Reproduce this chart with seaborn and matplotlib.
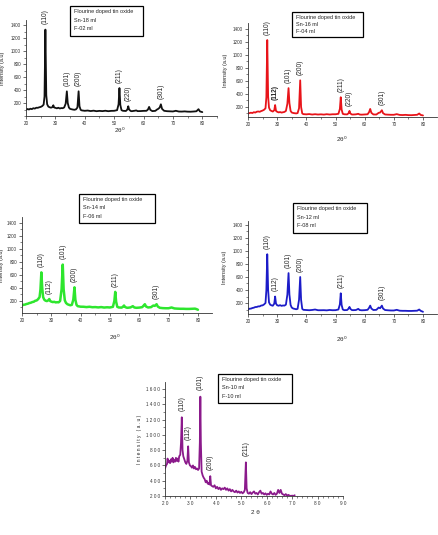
import numpy as np
import pandas as pd
import matplotlib
matplotlib.use("Agg")
import matplotlib.pyplot as plt
from matplotlib.patches import Rectangle
from matplotlib.ticker import MultipleLocator
import seaborn as sns

# ---- data (2theta in degrees, intensity in a.u.) ----
tt1 = [20, 20.5, 21, 21.5, 22, 22.5, 23, 23.5, 24, 24.5, 25, 25.5, 26, 26.3, 26.6, 26.9, 27.2, 27.6,
       28, 28.5, 29, 29.3, 29.6, 30, 30.5, 31, 31.5, 32, 32.5, 33, 33.5, 33.9, 34.2, 34.6, 35, 35.5,
       36, 36.5, 37, 37.5, 37.9, 38.2, 38.6, 39, 40, 41, 42, 43, 44, 45, 46, 47, 48, 49, 50, 51,
       51.5, 51.8, 52.1, 52.5, 53, 54, 54.5, 54.8, 55.1, 55.6, 56, 57, 57.5, 58, 59, 60, 61, 61.5,
       61.9, 62.3, 63, 64, 64.6, 65, 65.5, 65.9, 66.3, 67, 68, 69, 70, 71, 72, 73, 74, 75, 76, 77,
       78, 78.7, 79.2, 80]
int1 = [95, 108, 100, 112, 106, 120, 114, 127, 126, 134, 140, 152, 175, 300, 1330, 320, 180, 145,
        135, 128, 137, 165, 130, 126, 118, 127, 116, 122, 120, 132, 190, 380, 200, 130, 110, 104,
        99, 96, 102, 130, 380, 150, 95, 86, 80, 84, 76, 82, 74, 79, 75, 81, 74, 79, 80, 90,
        180, 430, 170, 90, 80, 77, 100, 150, 100, 78, 74, 81, 86, 75, 76, 79, 80, 100,
        140, 95, 75, 79, 100, 110, 130, 180, 110, 80, 74, 72, 70, 80, 69, 68, 71, 67, 66, 69,
        73, 105, 70, 60]

tt2 = [20, 20.5, 21, 21.5, 22, 22.5, 23, 23.5, 24, 24.5, 25, 25.5, 26, 26.3, 26.6, 26.9, 27.2, 27.6,
       28, 28.5, 29, 29.3, 29.6, 30, 30.5, 31, 31.5, 32, 32.5, 33, 33.5, 33.9, 34.2, 34.6, 35, 35.5,
       36, 36.5, 37, 37.5, 37.9, 38.2, 38.6, 39, 40, 41, 42, 43, 44, 45, 46, 47, 48, 49, 50, 51,
       51.5, 51.8, 52.1, 52.5, 53, 54, 54.5, 54.8, 55.1, 55.6, 56, 57, 57.8, 58.3, 59, 60, 61, 61.5,
       61.9, 62.3, 63, 64, 64.8, 65.3, 65.9, 66.3, 67, 68, 69, 70, 71, 72, 73, 74, 75, 76, 77, 78,
       78.7, 79.2, 80]
int2 = [100, 106, 112, 107, 120, 114, 127, 131, 126, 137, 145, 157, 180, 350, 1230, 360, 190, 150,
        140, 130, 150, 230, 140, 126, 117, 122, 114, 119, 124, 140, 250, 490, 260, 140, 115, 108,
        104, 101, 106, 180, 610, 200, 100, 90, 87, 91, 84, 89, 84, 87, 83, 89, 84, 88, 88, 95,
        170, 350, 160, 95, 88, 86, 105, 140, 100, 85, 84, 87, 95, 84, 82, 85, 88, 120,
        170, 110, 85, 84, 110, 115, 150, 105, 85, 82, 80, 80, 90, 78, 76, 79, 75, 74, 77, 80,
        100, 78, 70]

tt3 = [20, 20.5, 21, 21.5, 22, 22.5, 23, 23.5, 24, 24.5, 25, 25.5, 26, 26.3, 26.6, 26.9, 27.2, 27.6,
       28, 28.5, 29, 29.3, 29.6, 30, 30.5, 31, 31.5, 32, 32.5, 33, 33.5, 33.9, 34.2, 34.6, 35, 35.5,
       36, 36.5, 37, 37.5, 37.9, 38.2, 38.6, 39, 40, 41, 42, 43, 44, 45, 46, 47, 48, 49, 50, 51,
       51.5, 51.8, 52.1, 52.5, 53, 54, 54.5, 54.8, 55.1, 55.6, 56, 57, 57.8, 58.3, 59, 60, 61, 61.5,
       61.9, 62.3, 63, 64, 64.8, 65.3, 65.9, 66.3, 67, 68, 69, 70, 71, 72, 73, 74, 75, 76, 77, 78,
       79, 79.5, 80]
int3 = [130, 142, 144, 153, 158, 168, 173, 183, 188, 203, 208, 228, 260, 380, 640, 400, 260, 220,
        205, 198, 212, 230, 200, 190, 183, 187, 178, 181, 179, 200, 380, 760, 380, 210, 170, 150,
        141, 134, 141, 220, 410, 220, 140, 120, 112, 111, 106, 111, 104, 106, 101, 106, 99, 103, 100, 110,
        200, 340, 190, 110, 100, 98, 115, 130, 110, 98, 95, 101, 120, 100, 95, 98, 105, 130,
        150, 115, 100, 105, 130, 125, 150, 115, 95, 90, 88, 88, 100, 85, 82, 80, 80, 78, 78, 80,
        82, 75, 65]

tt4 = [20, 20.5, 21, 21.5, 22, 22.5, 23, 23.5, 24, 24.5, 25, 25.5, 26, 26.3, 26.6, 26.9, 27.2, 27.6,
       28, 28.5, 29, 29.3, 29.6, 30, 30.5, 31, 31.5, 32, 32.5, 33, 33.5, 33.9, 34.2, 34.6, 35, 35.5,
       36, 36.5, 37, 37.5, 37.9, 38.2, 38.6, 39, 40, 41, 42, 43, 44, 45, 46, 47, 48, 49, 50, 51,
       51.5, 51.8, 52.1, 52.5, 53, 54, 54.5, 54.8, 55.1, 55.6, 56, 57, 57.8, 58.3, 59, 60, 61, 61.5,
       61.9, 62.3, 63, 64, 64.8, 65.3, 65.9, 66.3, 67, 68, 69, 70, 71, 72, 73, 74, 75, 76, 77, 78,
       78.7, 79.2, 80]
int4 = [100, 112, 114, 123, 128, 138, 139, 148, 148, 161, 164, 178, 200, 400, 950, 400, 210, 175,
        165, 158, 190, 300, 190, 165, 158, 167, 156, 162, 160, 175, 330, 660, 330, 170, 130, 115,
        110, 104, 110, 250, 600, 250, 110, 95, 92, 89, 93, 100, 89, 89, 90, 87, 93, 89, 90, 100,
        180, 350, 170, 100, 90, 92, 115, 140, 110, 92, 90, 92, 110, 92, 88, 90, 95, 125,
        160, 115, 92, 95, 130, 120, 160, 115, 92, 88, 85, 85, 95, 82, 80, 80, 78, 78, 80, 82,
        100, 80, 65]

tt5 = [20, 20.4, 20.8, 21.0, 21.3, 21.6, 22.0, 22.3, 22.6, 23.0, 23.3, 23.6, 24.0, 24.3, 24.6, 25.0,
       25.3, 25.6, 26.0, 26.3, 26.6, 26.9, 27.2, 27.6, 28.0, 28.4, 28.8, 29.1, 29.4, 29.8, 30.2, 30.6,
       31.0, 31.4, 31.8, 32.2, 32.6, 33.0, 33.4, 33.7, 33.9, 34.1, 34.4, 34.8, 35.2, 35.6, 36.0, 36.4,
       36.8, 37.2, 37.5, 37.8, 38.1, 38.5, 39.0, 39.5, 40.0, 40.5, 41.0, 41.5, 42.0, 42.5, 43.0, 43.5,
       44.0, 44.5, 45.0, 45.5, 46.0, 46.5, 47.0, 47.5, 48.0, 48.5, 49.0, 49.5, 50.0, 50.5, 51.0, 51.4,
       51.8, 52.1, 52.5, 53.0, 53.5, 54.0, 54.5, 55.0, 55.5, 56.0, 56.5, 57.0, 57.5, 58.0, 58.5, 59.0,
       59.5, 60.0, 60.5, 61.0, 61.5, 62.0, 62.5, 63.0, 63.5, 64.0, 64.5, 65.0, 65.5, 66.0, 66.5, 67.0,
       67.5, 68.0, 68.5, 69.0, 69.5, 70.0, 70.5, 71.0]
int5 = [560, 600, 620, 690, 640, 660, 630, 680, 650, 700, 640, 670, 650, 700, 660, 690,
        650, 720, 740, 900, 1230, 800, 720, 680, 640, 620, 660, 850, 640, 600, 590, 570,
        600, 560, 580, 550, 560, 540, 560, 900, 1500, 900, 520, 470, 440, 420, 380, 400,
        360, 370, 350, 460, 340, 330, 320, 340, 300, 320, 290, 310, 280, 300, 290, 310,
        280, 300, 270, 290, 260, 280, 260, 250, 270, 245, 260, 240, 255, 235, 250, 280,
        640, 300, 240, 230, 250, 225, 245, 260, 230, 240, 220, 250, 270, 230, 240, 220,
        235, 215, 230, 220, 260, 230, 220, 240, 215, 230, 280, 240, 280, 230, 220, 210,
        225, 205, 215, 205, 200, 205, 200, 210]

peaks1 = [26.6, 33.9, 37.9, 51.8, 54.8, 65.9]
hkl1 = ["(110)", "(101)", "(200)", "(211)", "(220)", "(301)"]
peaks2 = [26.6, 29.3, 33.9, 37.9, 51.8, 54.8, 65.9]
hkl2 = ["(110)", "(112)", "(101)", "(200)", "(211)", "(220)", "(301)"]
peaks3 = [26.6, 29.3, 33.9, 37.9, 51.8, 65.9]
hkl3 = ["(110)", "(112)", "(101)", "(200)", "(211)", "(301)"]
peaks4 = [26.6, 29.3, 33.9, 37.9, 51.8, 65.9]
hkl4 = ["(110)", "(112)", "(101)", "(200)", "(211)", "(301)"]
peaks5 = [26.6, 29.1, 33.9, 37.8, 51.8]
hkl5 = ["(110)", "(112)", "(101)", "(200)", "(211)"]

samples = ["Sn-18 ml\nF-02 ml", "Sn-16 ml\nF-04 ml", "Sn-14 ml\nF-06 ml",
           "Sn-12 ml\nF-08 ml", "Sn-10 ml\nF-10 ml"]
colors = ["#111111", "#e8141a", "#2ee62e", "#1c1cc8", "#8b1a8b"]

W, H = 438, 535
sns.set_style("ticks")
plt.rcParams["font.family"] = ["Liberation Sans", "DejaVu Sans"]
fig = plt.figure(figsize=(W / 100, H / 100), dpi=100)


def px_axes(left, right, top, bottom):
    return fig.add_axes([left / W, 1 - bottom / H, (right - left) / W, (bottom - top) / H])


def legend_box(left, right, top, bottom, sample):
    fig.patches.append(Rectangle((left / W, 1 - bottom / H), (right - left) / W, (bottom - top) / H,
                                 transform=fig.transFigure, fill=False, edgecolor="black", lw=0.9))
    lines = ["Flourine doped tin oxide"] + sample.split("\n")
    step = (bottom - top - 4) / 3
    for i, s in enumerate(lines):
        fig.text((left + 4) / W, 1 - (top + 3 + i * step) / H, s, fontsize=4, va="top", ha="left")


# panel layout in pixels: (left, right, top, bottom, xlim, ylim, ylabel x, xlabel (x, y), legend box)
panels = [
    (26, 217, 20, 116, (20, 85), (0, 1478), 5, (120, 126), (70, 143, 6, 36)),
    (248, 437, 23, 117, (20, 84.8), (46, 1492), 228, (342, 135), (292, 363, 12, 37)),
    (22, 212, 217, 313, (20, 84.8), (15, 1492), 4, (115, 333), (79, 155, 194, 223)),
    (248, 437, 221, 314, (20, 84.8), (31, 1461), 227, (342, 335), (293, 367, 203, 233)),
    (165, 343, 382, 496, (20, 90), (200, 1692), 142, (255, 510), (218, 292, 374, 403)),
]
series = [(tt1, int1, peaks1, hkl1), (tt2, int2, peaks2, hkl2), (tt3, int3, peaks3, hkl3),
          (tt4, int4, peaks4, hkl4), (tt5, int5, peaks5, hkl5)]

for k, ((l, r, t, b, xl, yl, ylx, xlab, box), (tt, inten, pk, hkl)) in enumerate(zip(panels, series)):
    ax = px_axes(l, r, t, b)
    df = pd.DataFrame({"tt": tt, "I": inten})
    sns.lineplot(data=df, x="tt", y="I", ax=ax, color=colors[k], lw=1.3 if k != 2 else 1.8,
                 estimator=None, sort=False)
    ax.set_xlim(*xl)
    ax.set_ylim(*yl)
    sns.despine(ax=ax)
    for sp in ("left", "bottom"):
        ax.spines[sp].set_linewidth(0.6)
        ax.spines[sp].set_color("#333333")
    ax.xaxis.set_major_locator(MultipleLocator(10))
    ax.xaxis.set_minor_locator(MultipleLocator(5 if k < 4 else 2))
    ax.yaxis.set_major_locator(MultipleLocator(200))
    ax.yaxis.set_minor_locator(MultipleLocator(100))
    ax.tick_params(which="major", length=2, width=0.5, labelsize=3.3, pad=1.5, colors="#333333")
    ax.tick_params(which="minor", length=1.2, width=0.4)

    if k < 4:
        ax.set_yticks(np.arange(200, 1401, 200))
        ax.set_xticks(np.arange(20, 81, 10))
        ax.set_ylabel("Intensity (a.u)", fontsize=4)
        ax.set_xlabel("2θ$^0$", fontsize=4.5)
    else:
        yt = np.arange(200, 1601, 200)
        xt = np.arange(20, 91, 10)
        ax.set_yticks(yt)
        ax.set_yticklabels([" ".join(str(v)) for v in yt])
        ax.set_xticks(xt)
        ax.set_xticklabels([" ".join(str(v)) for v in xt])
        ax.set_ylabel("I n t e n s i t y   ( a . u )", fontsize=3.5)
        ax.set_xlabel("2 θ", fontsize=4.5)
    ax.yaxis.set_label_coords(ylx / W, 1 - ((t + b) / 2) / H, transform=fig.transFigure)
    ax.xaxis.set_label_coords(xlab[0] / W, 1 - xlab[1] / H, transform=fig.transFigure)

    # peak (hkl) labels just above each reflection
    arr_t = np.array(tt)
    arr_i = np.array(inten)
    pad = 0.055 * (yl[1] - yl[0])
    for p, lab in zip(pk, hkl):
        top = arr_i[np.abs(arr_t - p) < 0.5].max()
        ax.text(p, top + pad, lab, rotation=90, ha="center", va="bottom", fontsize=4.8,
                fontweight="bold" if (k == 1 and lab == "(112)") else "normal", clip_on=False)

    legend_box(*box, samples[k])

fig.savefig("out.png", dpi=100, facecolor="white")
